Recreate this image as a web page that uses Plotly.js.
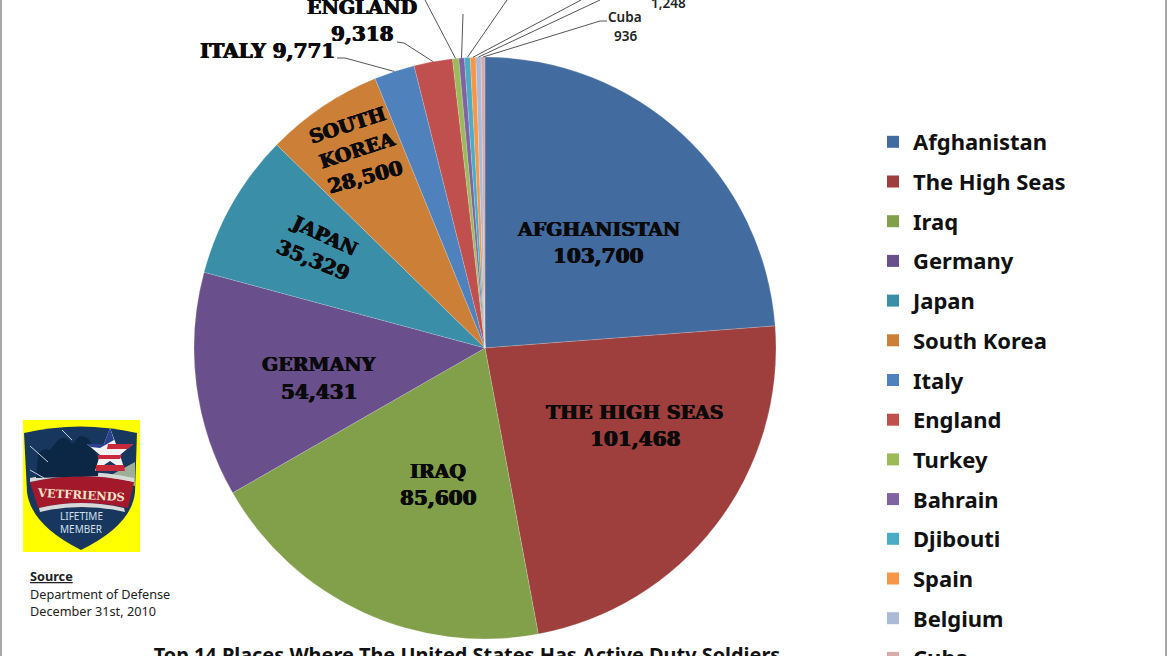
<!DOCTYPE html>
<html>
<head>
<meta charset="utf-8">
<script src="https://cdn.plot.ly/plotly-3.0.1.min.js"></script>
<style>html,body{margin:0;padding:0;background:#fff;overflow:hidden}#c{width:1168px;height:656px}</style>
</head>
<body>
<div id="c"></div>
<script>
const places = ["Afghanistan","The High Seas","Iraq","Germany","Japan","South Korea","Italy","England","Turkey","Bahrain","Djibouti","Spain","Belgium","Cuba"];
const soldiers = [103700,101468,85600,54431,35329,28500,9771,9318,1491,1349,1401,1345,1248,936];
const colors = ["#426CA0","#9E3F3D","#82A04A","#694F8C","#3A8EA8","#CC7F37","#4F81BD","#C0504D","#9BBB59","#8064A2","#4BACC6","#F79646","#AABAD7","#D9AAA9"];
const titleText = "Top 14 Places Where The United States Has Active Duty Soldiers";

const cx = 485, cy = 348, R = 291;
const fmt = v => v.toLocaleString("en-US");
const total = soldiers.reduce((a,b)=>a+b,0);
const rimPoint = i => {
  const before = soldiers.slice(0,i).reduce((a,b)=>a+b,0);
  const t = (before + soldiers[i]/2)/total*2*Math.PI;
  return [cx + R*Math.sin(t), cy - R*Math.cos(t)];
};

const heavy = "0.6px 0 0 #0a0a0a, -0.6px 0 0 #0a0a0a";
const stencil = {family:"DejaVu Serif", size:20, color:"#0a0a0a", weight:700, shadow:heavy};
const stencilName = Object.assign({}, stencil, {size:19});
const small = {family:"Noto Sans", size:13.5, color:"#222", weight:600};
const note = {family:"Noto Sans", size:12.7, color:"#222"};

const ann = (x,y,text,font,extra) => Object.assign({x,y,xref:"x",yref:"y",text,font,showarrow:false,xanchor:"center",yanchor:"middle"},extra||{});

const annotations = [
  ann(598,229,"AFGHANISTAN",stencilName), ann(598,256,fmt(soldiers[0]),stencil),
  ann(635,412,"THE HIGH SEAS",stencilName), ann(635,439,fmt(soldiers[1]),stencil),
  ann(438,471,"IRAQ",stencilName), ann(438,498,fmt(soldiers[2]),stencil),
  ann(319,364,"GERMANY",stencilName), ann(319,392,fmt(soldiers[3]),stencil),
  ann(324,235,"JAPAN",stencilName,{textangle:25}), ann(313,260,fmt(soldiers[4]),stencil,{textangle:22}),
  ann(347,125,"SOUTH",stencilName,{textangle:-18}), ann(357,150,"KOREA",stencilName,{textangle:-18}), ann(365,177,fmt(soldiers[5]),stencil,{textangle:-15}),
  ann(267,51,"ITALY "+fmt(soldiers[6]),stencil),
  ann(362,7,"ENGLAND",stencilName), ann(362,34,fmt(soldiers[7]),stencil),
  ann(425,-32,"Turkey",small), ann(425,-14,fmt(soldiers[8]),small),
  ann(463,-24,"Bahrain",small), ann(463,-6,fmt(soldiers[9]),small),
  ann(527,-25,"Djibouti",small), ann(527,-7,fmt(soldiers[10]),small),
  ann(590,-24,"Spain",small), ann(590,-6,fmt(soldiers[11]),small),
  ann(668,-14,"Belgium",small), ann(668,3,fmt(soldiers[12]),small),
  ann(625,17,"Cuba",small), ann(625,36,fmt(soldiers[13]),small),
  // source block
  ann(28,576,"<b><u>Source</u></b>",note,{xanchor:"left"}),
  ann(28,594,"Department of Defense",note,{xanchor:"left"}),
  ann(28,611,"December 31st, 2010",note,{xanchor:"left"}),
  // logo text
  ann(81,495,"VETFRIENDS",{family:"DejaVu Serif",size:11.5,color:"#EFE3C8",weight:700},{textangle:3}),
  ann(81,516,"LIFETIME",{family:"Noto Sans",size:10,color:"#D5E0EC"}),
  ann(81,529,"MEMBER",{family:"Noto Sans",size:10,color:"#D5E0EC"})
];

// leader lines: elbow in free space, other end on the slice's rim
const leaderFrom = {6:[337,58,345,58],7:[397,42,404,43],8:[425,0,425,0],9:[463,14,463,14],10:[507,0,507,0],11:[581,0,581,0],12:[600,0,600,0],13:[607,21,600,21]};
const shapes = [];
const line = (x0,y0,x1,y1,c,w) => ({type:"line",xref:"x",yref:"y",x0,y0,x1,y1,line:{color:c||"#555",width:w||1}});
Object.keys(leaderFrom).forEach(k=>{
  const e = leaderFrom[k], p = rimPoint(+k);
  shapes.push(line(e[0],e[1],e[2],e[3]));
  shapes.push(line(e[2],e[3],p[0],p[1]));
});
// frame
shapes.push(line(1,0,1,656,"#8a8a8a",1.5));
shapes.push(line(1166,0,1166,656,"#8a8a8a",1.5));
// logo
const path = (d,fill) => ({type:"path",xref:"x",yref:"y",path:d,fillcolor:fill,line:{width:0}});
shapes.push({type:"rect",xref:"x",yref:"y",x0:23,y0:420,x1:140,y1:552,fillcolor:"#FFFF00",line:{width:0}});
shapes.push(path("M24,433 Q80,420 137,433 L135,492 Q132,525 81,550 Q31,525 27,492 Z","#17375F"));
shapes.push(path("M102,480 L135,462 L135,486 Q120,480 102,478 Z","#9DAF98"));
shapes.push(path("M30,482 Q81,470 134,482 L128,508 Q81,498 38,508 Z","#A3182A"));
shapes.push(path("M40,512 Q81,502 125,512 L124,508 Q81,498 39,508 Z","#D8D8D8"));
shapes.push(path("M30,482 Q81,470 134,482 L134,478 Q81,466 30,478 Z","#D8D8D8"));
shapes.push(path("M36,478 L38,455 Q42,447 50,450 L58,440 Q66,434 72,444 L80,436 Q90,436 92,447 Q100,455 98,476 Z","#0C2646"));
shapes.push(line(30,446,48,462,"#C9D3DF",1));
shapes.push(line(30,470,44,478,"#C9D3DF",1));
shapes.push(line(62,430,72,440,"#C9D3DF",1));
shapes.push(path("M110,428 L116,444 L133,444 L120,455 L125,471 L110,461 L95,471 L100,455 L87,444 L104,444 Z","#F2F2F2"));
shapes.push(path("M110,428 L114,440 L100,448 L91,447 L87,444 L104,444 Z","#2A3F8F"));
shapes.push(path("M108,444 L133,444 L128,449 L107,449 Z","#C8283A"));
shapes.push(path("M98,455 L122,455 L120,459 L98,459 Z","#C8283A"));
shapes.push(path("M96,465 L124,465 L125,471 L96,471 Z","#C8283A"));

const pie = {
  type:"pie", labels:places, values:soldiers, sort:false, direction:"clockwise", rotation:0,
  marker:{colors:colors, line:{color:"rgba(255,255,255,0.35)",width:0.5}},
  textinfo:"none", hoverinfo:"label+value", showlegend:false,
  domain:{x:[(cx-R)/1168,(cx+R)/1168], y:[(656-cy-R)/656,(656-cy+R)/656]}
};
const legendKeys = places.map((p,i)=>({
  type:"scatter", mode:"markers", x:[null], y:[null], name:p, legendgroup:p, showlegend:true,
  marker:{symbol:"square", size:14, color:colors[i]}, xaxis:"x", yaxis:"y", hoverinfo:"skip"
}));

const layout = {
  width:1168, height:656, margin:{l:0,r:0,t:0,b:0,autoexpand:false},
  paper_bgcolor:"#fff", plot_bgcolor:"rgba(0,0,0,0)",
  xaxis:{visible:false, range:[0,1168], domain:[0,1], fixedrange:true},
  yaxis:{visible:false, range:[656,0], domain:[0,1], fixedrange:true},
  title:{text:titleText, x:467/1168, xanchor:"center", y:(656-648)/656, yanchor:"top", yref:"paper", pad:{t:0,b:0},
         font:{family:"Noto Sans", size:19.9, color:"#111", weight:700}},
  showlegend:true,
  legend:{x:873/1168, xanchor:"left", y:1-121/656, yanchor:"top", traceorder:"grouped", tracegroupgap:8.1, maxheight:800,
          itemsizing:"constant", bgcolor:"rgba(0,0,0,0)", borderwidth:0,
          font:{family:"Noto Sans", size:22, color:"#111", weight:700}},
  annotations, shapes
};
Plotly.newPlot("c",[pie].concat(legendKeys),layout,{displayModeBar:false,staticPlot:true});
</script>
</body>
</html>
